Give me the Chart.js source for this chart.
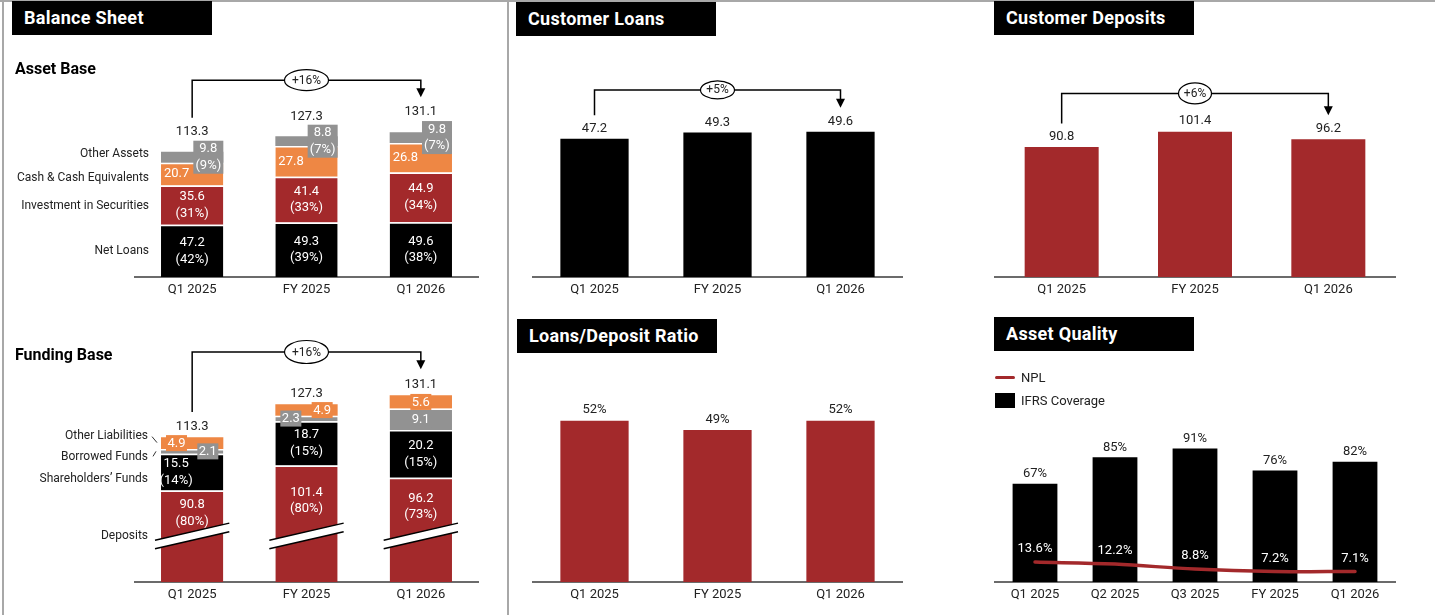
<!DOCTYPE html>
<html>
<head>
<meta charset="utf-8">
<title>Balance Sheet</title>
<script src="https://cdn.jsdelivr.net/npm/chart.js@4.4.1/dist/chart.umd.min.js"></script>
<style>
  html, body { margin: 0; padding: 0; background: #fff; }
  #page { position: relative; width: 1435px; height: 615px; overflow: hidden; font-family: Roboto, sans-serif; }
  #page canvas { position: absolute; left: 0; top: 0; }
  .rule { position: absolute; background: #a8a8a8; }
  .title { position: absolute; width: 200px; height: 34px; box-sizing: border-box; padding-left: 12px;
           background: #000; color: #fff; font: bold 18px Roboto, sans-serif; line-height: 34px; letter-spacing: 0.3px; }
  .subtitle { position: absolute; left: 15px; font: bold 16px Roboto, sans-serif; line-height: 20px; color: #000; }
  #legend { position: absolute; left: 995px; top: 366px; font: 13px Roboto, sans-serif; color: #222; }
  #legend .row { display: flex; align-items: center; height: 23px; }
  #legend .swatch { width: 20px; margin-right: 6px; }
</style>
</head>
<body>
<div id="page">
  <canvas id="assetChart" width="1435" height="615"></canvas>
  <canvas id="fundingChart" width="1435" height="615"></canvas>
  <canvas id="loanChart" width="1435" height="615"></canvas>
  <canvas id="ratioChart" width="1435" height="615"></canvas>
  <canvas id="depositChart" width="1435" height="615"></canvas>
  <canvas id="qualityChart" width="1435" height="615"></canvas>

  <div class="rule" style="left:0;top:0;width:1435px;height:2px"></div>
  <div class="rule" style="left:2px;top:0;width:2px;height:615px"></div>
  <div class="rule" style="left:507px;top:0;width:2px;height:615px"></div>

  <div class="title" style="left:12px;top:1px">Balance Sheet</div>
  <div class="title" style="left:516px;top:2px">Customer Loans</div>
  <div class="title" style="left:994px;top:1px">Customer Deposits</div>
  <div class="title" style="left:517px;top:319px">Loans/Deposit Ratio</div>
  <div class="title" style="left:994px;top:317px">Asset Quality</div>
  <div class="subtitle" style="top:59px">Asset Base</div>
  <div class="subtitle" style="top:345px">Funding Base</div>
  <div id="legend"></div>
</div>
<script>
// ---- data (AED bn unless stated) ----
const periods = ["Q1 2025", "FY 2025", "Q1 2026"];
const quarters = ["Q1 2025", "Q2 2025", "Q3 2025", "FY 2025", "Q1 2026"];

const netLoans = [47.2, 49.3, 49.6];
const netLoansPct = [42, 39, 38];
const securities = [35.6, 41.4, 44.9];
const securitiesPct = [31, 33, 34];
const cashEquivalents = [20.7, 27.8, 26.8];
const otherAssets = [9.8, 8.8, 9.8];
const otherAssetsPct = [9, 7, 7];
const totalAssets = [113.3, 127.3, 131.1];
const assetGrowth = "+16%";

const deposits = [90.8, 101.4, 96.2];
const depositsPct = [80, 80, 73];
const shareholdersFunds = [15.5, 18.7, 20.2];
const shareholdersPct = [14, 15, 15];
const borrowedFunds = [2.1, 2.3, 9.1];
const otherLiabilities = [4.9, 4.9, 5.6];
const totalFunding = [113.3, 127.3, 131.1];
const fundingGrowth = "+16%";

const customerLoans = [47.2, 49.3, 49.6];
const loanGrowth = "+5%";
const customerDeposits = [90.8, 101.4, 96.2];
const depositGrowth = "+6%";
const loanDepositRatio = [52, 49, 52];

const ifrsCoverage = [67, 85, 91, 76, 82];
const nplRatio = [13.6, 12.2, 8.8, 7.2, 7.1];

// ---- layout ----
const W = 1435, H = 615, AXIS_H = 26;
const FONT = "Roboto, 'DejaVu Sans', sans-serif";
const INK = "#222";
const RED = "#a3292b", ORANGE = "#ee8744", GREY = "#929292", BLACK = "#000";

// plot boxes in page pixels; ppu = pixels per unit on the value axis
const areas = {
  assets:   { left: 135, right: 478,  bottom: 277, min: 0,  max: 160, ppu: 1.105 },
  funding:  { left: 135, right: 478,  bottom: 582, min: 52, max: 135, ppu: 2.36 },
  loans:    { left: 533, right: 902,  bottom: 277, min: 0,  max: 60,  ppu: 2.93 },
  ratio:    { left: 533, right: 902,  bottom: 582, min: 0,  max: 60,  ppu: 3.1 },
  deposits: { left: 995, right: 1395, bottom: 277, min: 0,  max: 120, ppu: 1.432 },
  quality:  { left: 995, right: 1395, bottom: 582, min: 0,  max: 100, ppu: 1.467 }
};

const AXIS_BREAK = 71.5;               // deposits are cut at this value
const borrowedTagSide = [1, -1, 0];    // -1 left, 0 centre, 1 right
const otherLiabTagSide = [-1, 1, 0];

Chart.defaults.font.family = FONT;
Chart.defaults.color = INK;

function chartOptions(area, stacked) {
  const top = area.bottom - (area.max - area.min) * area.ppu;
  return {
    responsive: false,
    animation: false,
    events: [],
    devicePixelRatio: 1,
    layout: { padding: { left: area.left, right: W - area.right, top: top, bottom: H - area.bottom - AXIS_H } },
    plugins: { legend: { display: false }, tooltip: { enabled: false } },
    scales: {
      x: {
        stacked: stacked,
        grid: { display: false, drawTicks: false },
        border: { color: "#6b6b6b", width: 2 },
        ticks: { color: INK, font: { size: 13 }, padding: 5 },
        afterFit: (scale) => { scale.height = AXIS_H; }
      },
      y: { display: false, stacked: stacked, min: area.min, max: area.max }
    }
  };
}

function stackSet(label, data, color, width, extra) {
  return Object.assign({
    label, data, backgroundColor: color,
    borderColor: "#fff", borderWidth: { top: 1.5 }, borderSkipped: "start",
    categoryPercentage: 1, barPercentage: width
  }, extra || {});
}

// geometry of one drawn bar segment
function seg(chart, ds, i) {
  const el = chart.getDatasetMeta(ds).data[i];
  const bottom = Math.min(el.base, chart.chartArea.bottom);
  return { cx: el.x, top: el.y, bottom, mid: (el.y + bottom) / 2,
           left: el.x - el.width / 2, right: el.x + el.width / 2, width: el.width };
}

function write(ctx, str, x, y, opts) {
  opts = opts || {};
  ctx.save();
  ctx.font = (opts.bold ? "bold " : "") + (opts.size || 13) + "px " + FONT;
  ctx.fillStyle = opts.color || INK;
  ctx.textAlign = opts.align || "center";
  ctx.textBaseline = "middle";
  ctx.fillText(str, x, y);
  ctx.restore();
}

function pair(ctx, a, b, x, y, color) {
  write(ctx, a, x, y - 8.2, { color });
  write(ctx, b, x, y + 8.4, { color });
}

function tag(ctx, lines, x, y, w, h, bg) {
  ctx.fillStyle = bg;
  ctx.fillRect(x - w / 2, y - h / 2, w, h);
  if (lines.length === 1) write(ctx, lines[0], x, y + 0.5, { color: "#fff" });
  else pair(ctx, lines[0], lines[1], x, y, "#fff");
}

function tagX(s, side) {
  return side === 0 ? s.cx : side < 0 ? s.left + 15.5 : s.right - 15.5;
}

// elbow arrow from first bar to last bar with the growth bubble in the middle
function growthArrow(ctx, x1, y1, x2, y2, yTop, label, ew, eh) {
  ctx.save();
  ctx.strokeStyle = "#000";
  ctx.fillStyle = "#000";
  ctx.lineWidth = 1.5;
  ctx.beginPath();
  ctx.moveTo(x1, y1);
  ctx.lineTo(x1, yTop);
  ctx.lineTo(x2, yTop);
  ctx.lineTo(x2, y2 - 8);
  ctx.stroke();
  ctx.beginPath();
  ctx.moveTo(x2 - 4.5, y2 - 9);
  ctx.lineTo(x2 + 4.5, y2 - 9);
  ctx.lineTo(x2, y2);
  ctx.closePath();
  ctx.fill();
  const xm = (x1 + x2) / 2;
  ctx.beginPath();
  ctx.ellipse(xm, yTop, ew / 2, eh / 2, 0, 0, Math.PI * 2);
  ctx.fillStyle = "#fff";
  ctx.fill();
  ctx.lineWidth = 1.2;
  ctx.stroke();
  ctx.restore();
  write(ctx, label, xm, yTop + 0.5, { size: 12 });
}

// slanted double stroke marking the cut value axis
function breakMark(ctx, x, y, hw) {
  const slope = 0.23, gap = 4.3;
  const yl = y + slope * hw, yr = y - slope * hw;
  ctx.save();
  ctx.fillStyle = "#fff";
  ctx.beginPath();
  ctx.moveTo(x - hw, yl - gap);
  ctx.lineTo(x + hw, yr - gap);
  ctx.lineTo(x + hw, yr + gap);
  ctx.lineTo(x - hw, yl + gap);
  ctx.closePath();
  ctx.fill();
  ctx.strokeStyle = "#000";
  ctx.lineWidth = 1.5;
  ctx.beginPath();
  ctx.moveTo(x - hw, yl - gap);
  ctx.lineTo(x + hw, yr - gap);
  ctx.moveTo(x - hw, yl + gap);
  ctx.lineTo(x + hw, yr + gap);
  ctx.stroke();
  ctx.restore();
}

// ---- Asset Base ----
new Chart(document.getElementById("assetChart"), {
  type: "bar",
  data: {
    labels: periods,
    datasets: [
      stackSet("Net Loans", netLoans, BLACK, 0.545),
      stackSet("Investment in Securities", securities, RED, 0.545),
      stackSet("Cash & Cash Equivalents", cashEquivalents, ORANGE, 0.545),
      stackSet("Other Assets", otherAssets, GREY, 0.545, { borderWidth: 0 })
    ]
  },
  options: chartOptions(areas.assets, true),
  plugins: [{
    id: "assetLabels",
    afterDatasetsDraw(chart) {
      const ctx = chart.ctx;
      const nameNudge = [0, 1, 4, -3];
      chart.data.datasets.forEach((ds, k) => {
        const s = seg(chart, k, 0);
        write(ctx, ds.label, s.left - 12, s.mid + nameNudge[k], { align: "right", size: 12 });
      });
      let minTop = Infinity;
      periods.forEach((p, i) => {
        const nl = seg(chart, 0, i), sec = seg(chart, 1, i), cash = seg(chart, 2, i), oth = seg(chart, 3, i);
        pair(ctx, netLoans[i].toFixed(1), "(" + netLoansPct[i] + "%)", nl.cx, nl.mid, "#fff");
        pair(ctx, securities[i].toFixed(1), "(" + securitiesPct[i] + "%)", sec.cx, sec.mid, "#fff");
        write(ctx, cashEquivalents[i].toFixed(1), cash.left + 3, cash.mid, { color: "#fff", align: "left" });
        tag(ctx, [otherAssets[i].toFixed(1), "(" + otherAssetsPct[i] + "%)"], oth.right - 15, oth.mid, 30, 33, GREY);
        write(ctx, totalAssets[i].toFixed(1), oth.cx, oth.top - 20);
        minTop = Math.min(minTop, oth.top);
      });
      const a = seg(chart, 3, 0), b = seg(chart, 3, periods.length - 1);
      growthArrow(ctx, a.cx, a.top - 34, b.cx, b.top - 35, minTop - 52, assetGrowth, 44, 21);
    }
  }]
});

// ---- Funding Base ----
new Chart(document.getElementById("fundingChart"), {
  type: "bar",
  data: {
    labels: periods,
    datasets: [
      stackSet("Deposits", deposits, RED, 0.545, { clip: 0 }),
      stackSet("Shareholders\u2019 Funds", shareholdersFunds, BLACK, 0.545, { clip: 0 }),
      stackSet("Borrowed Funds", borrowedFunds, GREY, 0.545, { clip: 0 }),
      stackSet("Other Liabilities", otherLiabilities, ORANGE, 0.545, { clip: 0, borderWidth: 0 })
    ]
  },
  options: chartOptions(areas.funding, true),
  plugins: [{
    id: "fundingLabels",
    afterDatasetsDraw(chart) {
      const ctx = chart.ctx;
      const yBreak = chart.scales.y.getPixelForValue(AXIS_BREAK);
      let minTop = Infinity;
      periods.forEach((p, i) => {
        const dep = seg(chart, 0, i), sh = seg(chart, 1, i), bor = seg(chart, 2, i), oth = seg(chart, 3, i);
        breakMark(ctx, dep.cx, yBreak, dep.width / 2 + 6);
        pair(ctx, deposits[i].toFixed(1), "(" + depositsPct[i] + "%)", dep.cx, (dep.top + yBreak) / 2, "#fff");
        const shift = borrowedTagSide[i] === 1 ? -16 : 0;
        pair(ctx, shareholdersFunds[i].toFixed(1), "(" + shareholdersPct[i] + "%)", sh.cx + shift, sh.mid, "#fff");
        tag(ctx, [otherLiabilities[i].toFixed(1)], tagX(oth, otherLiabTagSide[i]), oth.mid, 21, 16, ORANGE);
        tag(ctx, [borrowedFunds[i].toFixed(1)], tagX(bor, borrowedTagSide[i]), bor.mid, 21, 16, GREY);
        write(ctx, totalFunding[i].toFixed(1), oth.cx, oth.top - 11);
        minTop = Math.min(minTop, oth.top);
      });

      // series names beside the first bar
      const names = chart.data.datasets.map(d => d.label);
      const dep0 = seg(chart, 0, 0), sh0 = seg(chart, 1, 0), bor0 = seg(chart, 2, 0), oth0 = seg(chart, 3, 0);
      const xr = dep0.left - 13;
      write(ctx, names[3], xr, oth0.mid - 7.5, { align: "right", size: 12 });
      write(ctx, names[2], xr, bor0.mid + 6, { align: "right", size: 12 });
      write(ctx, names[1], xr, sh0.mid + 6.7, { align: "right", size: 12 });
      write(ctx, names[0], xr, yBreak, { align: "right", size: 12 });
      ctx.save();
      ctx.strokeStyle = "#333";
      ctx.lineWidth = 1;
      ctx.beginPath();
      ctx.moveTo(dep0.left - 9, oth0.mid - 6.5);
      ctx.lineTo(dep0.left - 4, oth0.mid - 0.5);
      ctx.moveTo(dep0.left - 8, bor0.mid + 5);
      ctx.lineTo(dep0.left - 5, bor0.mid);
      ctx.stroke();
      ctx.restore();

      const a = seg(chart, 3, 0), b = seg(chart, 3, periods.length - 1);
      growthArrow(ctx, a.cx, a.top - 25.3, b.cx, b.top - 26, minTop - 43.3, fundingGrowth, 44, 23);
    }
  }]
});

// ---- single-series bar panels ----
function simpleBars(id, values, color, area, fmt, labelGap, growth) {
  return new Chart(document.getElementById(id), {
    type: "bar",
    data: {
      labels: periods,
      datasets: [{ label: id, data: values, backgroundColor: color, categoryPercentage: 1, barPercentage: 0.555 }]
    },
    options: chartOptions(area, false),
    plugins: [{
      id: id + "Labels",
      afterDatasetsDraw(chart) {
        const ctx = chart.ctx;
        let minTop = Infinity;
        values.forEach((v, i) => {
          const s = seg(chart, 0, i);
          write(ctx, fmt(v), s.cx, s.top - labelGap);
          minTop = Math.min(minTop, s.top);
        });
        if (growth) {
          const a = seg(chart, 0, 0), b = seg(chart, 0, values.length - 1);
          growthArrow(ctx, a.cx, a.top - 23.5, b.cx, b.top - 24, minTop - growth.rise, growth.text, growth.ew, growth.eh);
        }
      }
    }]
  });
}

simpleBars("loanChart", customerLoans, BLACK, areas.loans, v => v.toFixed(1), 10,
  { text: loanGrowth, rise: 41.7, ew: 34, eh: 18 });
simpleBars("ratioChart", loanDepositRatio, RED, areas.ratio, v => v + "%", 10.7, null);
simpleBars("depositChart", customerDeposits, RED, areas.deposits, v => v.toFixed(1), 10.7,
  { text: depositGrowth, rise: 38.4, ew: 33, eh: 21 });

// ---- Asset Quality ----
const quality = new Chart(document.getElementById("qualityChart"), {
  type: "bar",
  data: {
    labels: quarters,
    datasets: [
      { type: "line", label: "NPL", data: nplRatio, borderColor: RED, borderWidth: 3.5,
        borderCapStyle: "round", tension: 0.35, pointRadius: 0, order: 0 },
      { type: "bar", label: "IFRS Coverage", data: ifrsCoverage, backgroundColor: BLACK,
        categoryPercentage: 1, barPercentage: 0.56, order: 1 }
    ]
  },
  options: chartOptions(areas.quality, false),
  plugins: [{
    id: "qualityLabels",
    afterDatasetsDraw(chart) {
      const ctx = chart.ctx;
      const line = chart.getDatasetMeta(0).data;
      ifrsCoverage.forEach((v, i) => {
        const s = seg(chart, 1, i);
        write(ctx, v + "%", s.cx, s.top - 10);
        write(ctx, nplRatio[i].toFixed(1) + "%", line[i].x, line[i].y - 13, { color: "#fff" });
      });
    }
  }]
});

// legend for the asset quality panel
const legend = document.getElementById("legend");
quality.data.datasets.forEach(ds => {
  const row = document.createElement("div");
  row.className = "row";
  const sw = document.createElement("div");
  sw.className = "swatch";
  if (ds.type === "line") {
    sw.style.height = "3.5px";
    sw.style.borderRadius = "2px";
    sw.style.background = ds.borderColor;
  } else {
    sw.style.height = "14.5px";
    sw.style.background = ds.backgroundColor;
  }
  const txt = document.createElement("span");
  txt.textContent = ds.label;
  row.appendChild(sw);
  row.appendChild(txt);
  legend.appendChild(row);
});
</script>
</body>
</html>
